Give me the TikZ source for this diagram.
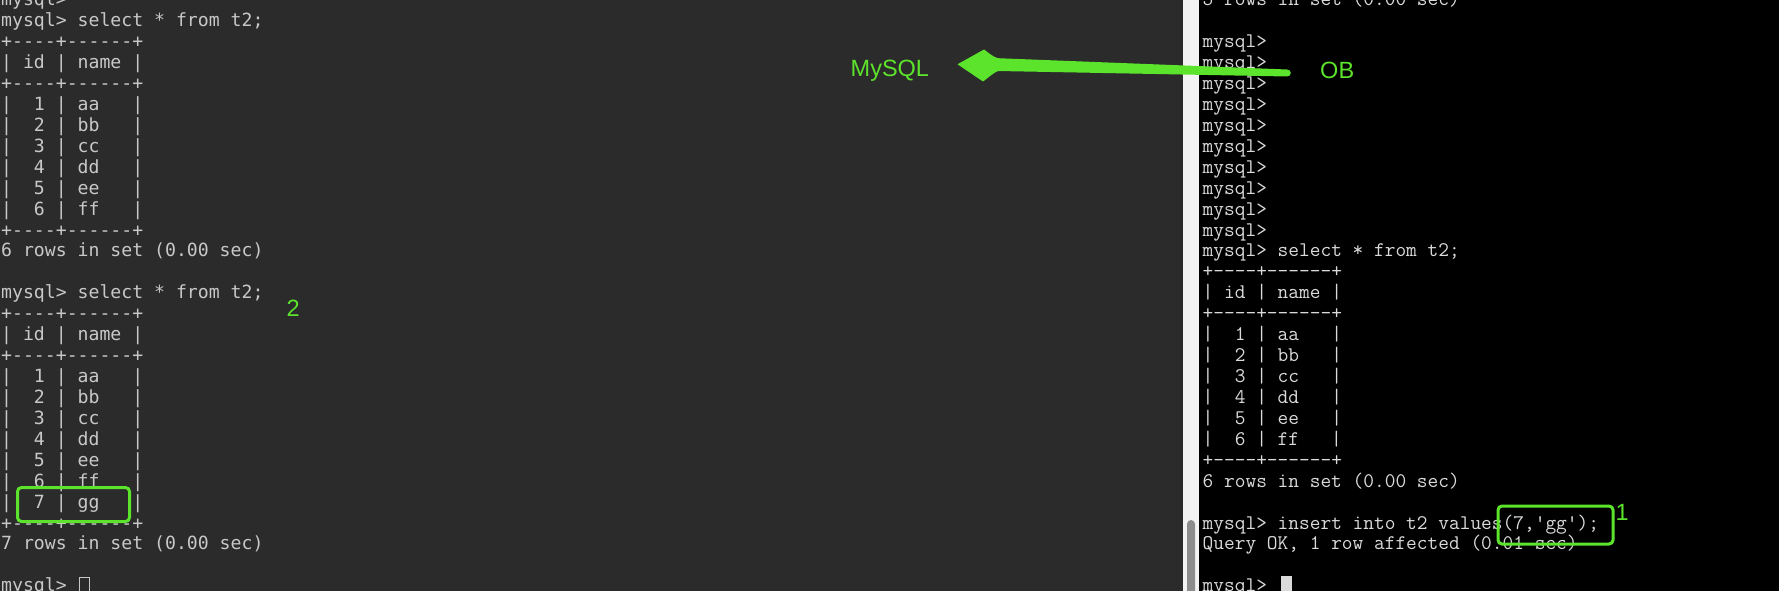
\documentclass[tikz,border=0pt]{standalone}
\usepackage{fontspec}
\newfontfamily\lmonofont{DejaVu Sans Mono}
\newfontfamily\lblfont{Liberation Sans}
\definecolor{leftbg}{RGB}{43,43,43}
\definecolor{stripbg}{RGB}{243,243,243}
\definecolor{ltext}{RGB}{200,200,200}
\definecolor{rtext}{RGB}{218,218,218}
\definecolor{hlgreen}{RGB}{92,228,44}
\definecolor{scrollgrey}{RGB}{140,140,140}
\tikzset{
  lterm/.style={anchor=base west, inner sep=0pt, text=ltext,
    font=\lmonofont\fontsize{18.15pt}{21pt}\selectfont},
  rterm/.style={anchor=base west, inner sep=0pt, text=rtext,
    font=\ttfamily\fontsize{20.8pt}{21pt}\selectfont},
  lbl/.style={anchor=base west, inner sep=0pt, text=hlgreen,
    font=\lblfont\fontsize{23.5pt}{26pt}\selectfont},
  hlbox/.style={draw=hlgreen, line width=3pt, rounded corners=4pt},
}
\newcommand\tlL[3]{\node[lterm] (#1) at (1,{5.8+20.93*#2}) {#3};}
\newcommand\tlR[3]{\node[rterm] (#1) at (1202.5,{5.8+20.93*#2}) {#3};}
\begin{document}
\begin{tikzpicture}[x=1pt,y=-1pt]
\useasboundingbox (0,0) rectangle (1779,591);
\clip (0,0) rectangle (1779,591);
% backgrounds
\fill[leftbg] (0,0) rectangle (1183,591);
\fill[stripbg] (1183,0) rectangle (1199,591);
\fill[black] (1199,0) rectangle (1779,591);
\fill[scrollgrey, rounded corners=4pt] (1187,520) rectangle (1195,600);
% left terminal
\tlL{la0}{0}{mysql>}
\tlL{la1}{1}{mysql>~select~*~from~t2;}
\tlL{la2}{2}{+----+------+}
\tlL{la3}{3}{|~id~|~name~|}
\tlL{la4}{4}{+----+------+}
\tlL{la5}{5}{|~~1~|~aa~~~|}
\tlL{la6}{6}{|~~2~|~bb~~~|}
\tlL{la7}{7}{|~~3~|~cc~~~|}
\tlL{la8}{8}{|~~4~|~dd~~~|}
\tlL{la9}{9}{|~~5~|~ee~~~|}
\tlL{la10}{10}{|~~6~|~ff~~~|}
\tlL{la11}{11}{+----+------+}
\tlL{la12}{12}{6~rows~in~set~(0.00~sec)}
\tlL{la14}{14}{mysql>~select~*~from~t2;}
\tlL{la15}{15}{+----+------+}
\tlL{la16}{16}{|~id~|~name~|}
\tlL{la17}{17}{+----+------+}
\tlL{la18}{18}{|~~1~|~aa~~~|}
\tlL{la19}{19}{|~~2~|~bb~~~|}
\tlL{la20}{20}{|~~3~|~cc~~~|}
\tlL{la21}{21}{|~~4~|~dd~~~|}
\tlL{la22}{22}{|~~5~|~ee~~~|}
\tlL{la23}{23}{|~~6~|~ff~~~|}
\tlL{la24}{24}{|~~7~|~gg~~~|}
\tlL{la25}{25}{+----+------+}
\tlL{la26}{26}{7~rows~in~set~(0.00~sec)}
\tlL{la28}{28}{mysql>}
\draw[ltext, line width=1pt] (79.5,577.5) rectangle (89.5,596);
% right terminal
\tlR{ra0}{0}{5~rows~in~set~(0.00~sec)}
\tlR{ra2}{2}{mysql>}
\tlR{ra3}{3}{mysql>}
\tlR{ra4}{4}{mysql>}
\tlR{ra5}{5}{mysql>}
\tlR{ra6}{6}{mysql>}
\tlR{ra7}{7}{mysql>}
\tlR{ra8}{8}{mysql>}
\tlR{ra9}{9}{mysql>}
\tlR{ra10}{10}{mysql>}
\tlR{ra11}{11}{mysql>}
\tlR{ra12}{12}{mysql>~select~*~from~t2;}
\tlR{ra13}{13}{+----+------+}
\tlR{ra14}{14}{|~id~|~name~|}
\tlR{ra15}{15}{+----+------+}
\tlR{ra16}{16}{|~~1~|~aa~~~|}
\tlR{ra17}{17}{|~~2~|~bb~~~|}
\tlR{ra18}{18}{|~~3~|~cc~~~|}
\tlR{ra19}{19}{|~~4~|~dd~~~|}
\tlR{ra20}{20}{|~~5~|~ee~~~|}
\tlR{ra21}{21}{|~~6~|~ff~~~|}
\tlR{ra22}{22}{+----+------+}
\tlR{ra23}{23}{6~rows~in~set~(0.00~sec)}
\tlR{ra25}{25}{mysql>~insert~into~t2~values(7,'gg');}
\tlR{ra26}{26}{Query~OK,~1~row~affected~(0.01~sec)}
\tlR{ra28}{28}{mysql>}
\fill[rtext] (1281,576) rectangle (1292,596);
% annotations
\draw[hlbox] (17.5,487.5) rectangle (129.5,521.5);
\draw[hlbox] (1498,506) rectangle (1613,544);
\node[lbl] (mysql) at (850.5,76.7) {MySQL};
\node[lbl] (ob) at (1320,79) {OB};
\node[lbl] (two) at (286.3,316) {2};
\node[lbl] (one) at (1615.5,520) {1};
% arrow from OB to MySQL
\coordinate (atip) at (957.5,64.3);
\coordinate (atail) at (1287,73);
\fill[hlgreen] (atip) -- (984,49.5) .. controls (989,53) and (993,57) .. (998,58.2)
  -- ([yshift=3.5pt]atail) .. controls ([xshift=5pt,yshift=3.5pt]atail) and ([xshift=5pt,yshift=-3.5pt]atail) .. ([yshift=-3.5pt]atail)
  -- (998,71) .. controls (993,73) and (988,78) .. (983,81.5) -- cycle;
\end{tikzpicture}
\end{document}
